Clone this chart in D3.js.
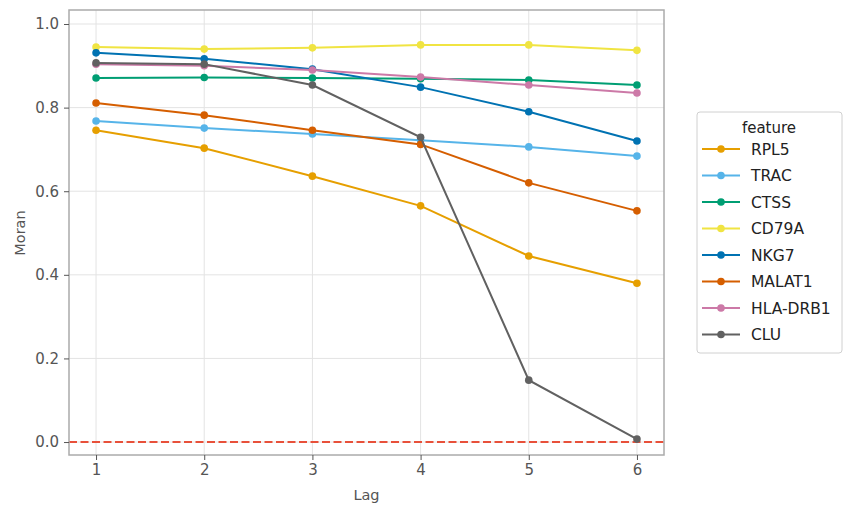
<!DOCTYPE html>
<html>
<head>
<meta charset="utf-8">
<script src="https://cdn.jsdelivr.net/npm/d3@7"></script>
<style>
  body { margin: 0; background: #fff; }
  text { font-family: "DejaVu Sans", sans-serif; }
</style>
</head>
<body>
<div id="viz"></div>
<script>
// data
const lags = [1, 2, 3, 4, 5, 6];
const features = ["RPL5", "TRAC", "CTSS", "CD79A", "NKG7", "MALAT1", "HLA-DRB1", "CLU"];
const colors = ["#E69F00", "#56B4E9", "#009E73", "#F0E442", "#0072B2", "#D55E00", "#CC79A7", "#616161"];
const rpl5 = [0.746, 0.703, 0.636, 0.565, 0.445, 0.380];
const trac = [0.768, 0.751, 0.737, 0.722, 0.706, 0.684];
const ctss = [0.871, 0.872, 0.871, 0.869, 0.866, 0.854];
const cd79a = [0.945, 0.940, 0.943, 0.950, 0.950, 0.937];
const nkg7 = [0.931, 0.917, 0.892, 0.849, 0.790, 0.720];
const malat1 = [0.811, 0.782, 0.746, 0.712, 0.620, 0.553];
const hladrb1 = [0.904, 0.900, 0.890, 0.873, 0.854, 0.835];
const clu = [0.907, 0.904, 0.854, 0.729, 0.148, 0.007];
const seriesValues = [rpl5, trac, ctss, cd79a, nkg7, malat1, hladrb1, clu];
const yTicks = [0.0, 0.2, 0.4, 0.6, 0.8, 1.0];

const width = 854, height = 515;
const margin = { left: 69, right: 190, top: 10, bottom: 60 };

const svg = d3.select("#viz").append("svg")
  .attr("width", width).attr("height", height);

const x = d3.scaleLinear().domain([0.75, 6.25]).range([margin.left, width - margin.right]);
const y = d3.scaleLinear().domain([-0.031, 1.0335]).range([height - margin.bottom, margin.top]);

// grid
svg.append("g").selectAll("line.gx").data(lags).enter().append("line")
  .attr("x1", d => x(d)).attr("x2", d => x(d))
  .attr("y1", margin.top).attr("y2", height - margin.bottom)
  .attr("stroke", "#e3e3e3").attr("stroke-width", 1);
svg.append("g").selectAll("line.gy").data(yTicks).enter().append("line")
  .attr("y1", d => y(d)).attr("y2", d => y(d))
  .attr("x1", margin.left).attr("x2", width - margin.right)
  .attr("stroke", "#e3e3e3").attr("stroke-width", 1);

// zero reference line
svg.append("line")
  .attr("x1", margin.left).attr("x2", width - margin.right)
  .attr("y1", y(0)).attr("y2", y(0))
  .attr("stroke", "#e8503a").attr("stroke-width", 2)
  .attr("stroke-dasharray", "8,3.5");

// lines + points
const line = d3.line().x((d, i) => x(lags[i])).y(d => y(d));
features.forEach((f, k) => {
  const g = svg.append("g");
  g.append("path").datum(seriesValues[k])
    .attr("d", line).attr("fill", "none")
    .attr("stroke", colors[k]).attr("stroke-width", 2);
  g.selectAll("circle").data(seriesValues[k]).enter().append("circle")
    .attr("cx", (d, i) => x(lags[i])).attr("cy", d => y(d))
    .attr("r", 3.8).attr("fill", colors[k]);
});

// frame
svg.append("rect")
  .attr("x", margin.left).attr("y", margin.top)
  .attr("width", width - margin.left - margin.right)
  .attr("height", height - margin.top - margin.bottom)
  .attr("fill", "none").attr("stroke", "#ababab").attr("stroke-width", 1.5);

// axes
const xAxis = svg.append("g")
  .attr("transform", `translate(0,${height - margin.bottom})`)
  .call(d3.axisBottom(x).tickValues(lags).tickFormat(d3.format("d")).tickSize(5).tickPadding(4));
const yAxis = svg.append("g")
  .attr("transform", `translate(${margin.left},0)`)
  .call(d3.axisLeft(y).tickValues(yTicks).tickFormat(d3.format(".1f")).tickSize(5).tickPadding(5));
[xAxis, yAxis].forEach(a => {
  a.select(".domain").remove();
  a.selectAll(".tick line").attr("stroke", "#555");
  a.selectAll(".tick text").attr("fill", "#555").style("font-size", "15px")
    .style("font-family", "DejaVu Sans, sans-serif");
});

svg.append("text")
  .attr("x", x(3.5)).attr("y", 500)
  .attr("text-anchor", "middle").attr("fill", "#555")
  .style("font-size", "14.5px").text("Lag");
svg.append("text")
  .attr("transform", `translate(25,${y(0.5)}) rotate(-90)`)
  .attr("text-anchor", "middle").attr("fill", "#555")
  .style("font-size", "14.5px").text("Moran");

// legend
const legend = svg.append("g").attr("transform", "translate(697,112)");
legend.append("rect")
  .attr("width", 145).attr("height", 241).attr("rx", 3)
  .attr("fill", "#fff").attr("stroke", "#d0d0d0");
legend.append("text")
  .attr("x", 72).attr("y", 21).attr("text-anchor", "middle")
  .attr("fill", "#222").style("font-size", "15px").text("feature");
const items = legend.selectAll("g.item").data(features).enter().append("g")
  .attr("transform", (d, i) => `translate(0,${37 + 26.5 * i})`);
items.append("line")
  .attr("x1", 5).attr("x2", 43)
  .attr("stroke", (d, i) => colors[i]).attr("stroke-width", 2);
items.append("circle")
  .attr("cx", 24).attr("r", 3.8).attr("fill", (d, i) => colors[i]);
items.append("text")
  .attr("x", 54).attr("y", 5.5).attr("fill", "#222")
  .style("font-size", "15.5px").text(d => d);
</script>
</body>
</html>
